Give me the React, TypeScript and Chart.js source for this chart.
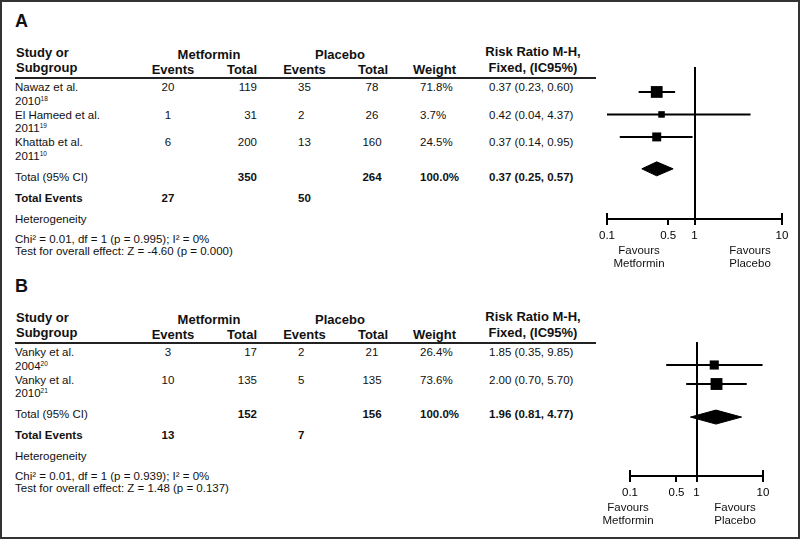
import React, { useEffect, useRef } from "react";
import { Chart, registerables } from "chart.js";

Chart.register(...registerables);

const FONT = 'Arial, "Liberation Sans", Helvetica, sans-serif';
Chart.defaults.font.family = FONT;

// ---------- Panel A data ----------
const studiesA = ["Nawaz et al.", "El Hameed et al.", "Khattab et al."];
const yearsA = ["2010", "2011", "2011"];
const refsA = ["18", "19", "10"];
const metEventsA = [20, 1, 6];
const metTotalA = [119, 31, 200];
const plcEventsA = [35, 2, 13];
const plcTotalA = [78, 26, 160];
const weightA = [71.8, 3.7, 24.5];
const rrA = [0.37, 0.42, 0.37];
const loA = [0.23, 0.04, 0.14];
const hiA = [0.6, 4.37, 0.95];
const pooledA = [0.37, 0.25, 0.57];
const hetA = "Chi\u00B2 = 0.01, df = 1 (p = 0.995); I\u00B2 = 0%";
const effectA = "Test for overall effect: Z = -4.60 (p = 0.000)";

// ---------- Panel B data ----------
const studiesB = ["Vanky et al.", "Vanky et al."];
const yearsB = ["2004", "2010"];
const refsB = ["20", "21"];
const metEventsB = [3, 10];
const metTotalB = [17, 135];
const plcEventsB = [2, 5];
const plcTotalB = [21, 135];
const weightB = [26.4, 73.6];
const rrB = [1.85, 2.0];
const loB = [0.35, 0.7];
const hiB = [9.85, 5.7];
const pooledB = [1.96, 0.81, 4.77];
const hetB = "Chi\u00B2 = 0.01, df = 1 (p = 0.939); I\u00B2 = 0%";
const effectB = "Test for overall effect: Z = 1.48 (p = 0.137)";

const xTicks = [0.1, 0.5, 1, 10];
const nullValue = 1;

const fmt2 = (v: number) => v.toFixed(2);
const sum = (a: number[]) => a.reduce((s, v) => s + v, 0);

type Align = "left" | "center" | "right";
function T(props: { x: number; y: number; children: any; align?: Align; size?: number; bold?: boolean }) {
  const { x, y, children, align = "left", size = 11.5, bold = false } = props;
  const tx = align === "left" ? "0" : align === "center" ? "-50%" : "-100%";
  return (
    <div
      style={{
        position: "absolute",
        left: x,
        top: y,
        transform: `translate(${tx}, -50%)`,
        fontFamily: FONT,
        fontSize: size,
        fontWeight: bold ? 700 : 400,
        lineHeight: 1,
        whiteSpace: "nowrap",
        color: "#111",
      }}
    >
      {children}
    </div>
  );
}

type PanelData = {
  letter: string;
  studies: string[];
  years: string[];
  refs: string[];
  metEvents: number[];
  metTotal: number[];
  plcEvents: number[];
  plcTotal: number[];
  weight: number[];
  rr: number[];
  lo: number[];
  hi: number[];
  pooled: number[];
  het: string;
  effect: string;
};

type PlotLayout = {
  left: number;
  top: number;
  width: number;
  height: number;
  pad: { left: number; right: number; top: number; bottom: number };
  axisH: number;
  yMin: number;
  yMax: number;
  totalGap: number;
  favY: number;
  favLeftX: number;
  favRightX: number;
};

const COL = {
  study: 15,
  metEv: 168,
  metTot: 257,
  plcEv: 298,
  plcTot: 372,
  weight: 420,
  rr: 489,
};

function Table({ d, off }: { d: PanelData; off: number }) {
  const rowY0 = off + 88;
  const step = 27.5;
  const totalY = rowY0 + (d.studies.length - 1) * step + 34.5;
  const els: any[] = [];
  els.push(<T key="letter" x={15} y={off + 21} size={18} bold>{d.letter}</T>);
  const H = 13;
  els.push(<T key="h1" x={16} y={off + 51.5} size={H} bold>Study or</T>);
  els.push(<T key="h2" x={16} y={off + 66.5} size={H} bold>Subgroup</T>);
  els.push(<T key="h3" x={209} y={off + 54} size={H} bold align="center">Metformin</T>);
  els.push(<T key="h4" x={340} y={off + 54} size={H} bold align="center">Placebo</T>);
  els.push(<T key="h5" x={173} y={off + 69} size={H} bold align="center">Events</T>);
  els.push(<T key="h6" x={257} y={off + 69} size={H} bold align="right">Total</T>);
  els.push(<T key="h7" x={304.5} y={off + 69} size={H} bold align="center">Events</T>);
  els.push(<T key="h8" x={388} y={off + 69} size={H} bold align="right">Total</T>);
  els.push(<T key="h9" x={434.5} y={off + 69} size={H} bold align="center">Weight</T>);
  els.push(<T key="h10" x={533} y={off + 50.5} size={H} bold align="center">Risk Ratio M-H,</T>);
  els.push(<T key="h11" x={533} y={off + 66.5} size={H} bold align="center">Fixed, (IC95%)</T>);
  els.push(
    <div key="rule" style={{ position: "absolute", left: 15, top: off + 77, width: 581, height: 2, background: "#222" }} />
  );
  d.studies.forEach((s, i) => {
    const y = rowY0 + i * step;
    els.push(<T key={"s" + i} x={COL.study} y={y}>{s}</T>);
    els.push(
      <T key={"yr" + i} x={COL.study} y={y + 13.5}>
        {d.years[i]}
        <span style={{ fontSize: 6.5, position: "relative", top: -4 }}>{d.refs[i]}</span>
      </T>
    );
    els.push(<T key={"me" + i} x={COL.metEv} y={y} align="center">{d.metEvents[i]}</T>);
    els.push(<T key={"mt" + i} x={COL.metTot} y={y} align="right">{d.metTotal[i]}</T>);
    els.push(<T key={"pe" + i} x={COL.plcEv} y={y}>{d.plcEvents[i]}</T>);
    els.push(<T key={"pt" + i} x={COL.plcTot} y={y} align="center">{d.plcTotal[i]}</T>);
    els.push(<T key={"w" + i} x={COL.weight} y={y}>{d.weight[i].toFixed(1) + "%"}</T>);
    els.push(
      <T key={"r" + i} x={COL.rr} y={y}>
        {`${fmt2(d.rr[i])} (${fmt2(d.lo[i])}, ${fmt2(d.hi[i])})`}
      </T>
    );
  });
  els.push(<T key="tci" x={COL.study} y={totalY}>Total (95% CI)</T>);
  els.push(<T key="tmt" x={COL.metTot} y={totalY} align="right" bold>{sum(d.metTotal)}</T>);
  els.push(<T key="tpt" x={COL.plcTot} y={totalY} align="center" bold>{sum(d.plcTotal)}</T>);
  els.push(<T key="tw" x={COL.weight} y={totalY} bold>{sum(d.weight).toFixed(1) + "%"}</T>);
  els.push(
    <T key="trr" x={COL.rr} y={totalY} bold>
      {`${fmt2(d.pooled[0])} (${fmt2(d.pooled[1])}, ${fmt2(d.pooled[2])})`}
    </T>
  );
  els.push(<T key="te" x={COL.study} y={totalY + 21} bold>Total Events</T>);
  els.push(<T key="tme" x={COL.metEv} y={totalY + 21} align="center" bold>{sum(d.metEvents)}</T>);
  els.push(<T key="tpe" x={COL.plcEv} y={totalY + 21} bold>{sum(d.plcEvents)}</T>);
  els.push(<T key="het" x={COL.study} y={totalY + 42}>Heterogeneity</T>);
  els.push(<T key="chi" x={COL.study} y={totalY + 62}>{d.het}</T>);
  els.push(<T key="eff" x={COL.study} y={totalY + 74}>{d.effect}</T>);
  return <>{els}</>;
}

const refLinePlugin = {
  id: "refLine",
  beforeDatasetsDraw(chart: any) {
    const { ctx, chartArea } = chart;
    const x = Math.round(chart.scales.x.getPixelForValue(nullValue));
    ctx.save();
    ctx.strokeStyle = "#000";
    ctx.lineWidth = 2;
    ctx.beginPath();
    ctx.moveTo(x, chartArea.top);
    ctx.lineTo(x, chartArea.bottom);
    ctx.stroke();
    ctx.restore();
  },
};

const capPlugin = {
  id: "axisCaps",
  afterDraw(chart: any) {
    const { ctx } = chart;
    const xs = chart.scales.x;
    const y = xs.top;
    ctx.save();
    ctx.strokeStyle = "#000";
    ctx.lineWidth = 2;
    [xTicks[0], xTicks[xTicks.length - 1]].forEach((v) => {
      const px = Math.round(xs.getPixelForValue(v));
      ctx.beginPath();
      ctx.moveTo(px, y - 6);
      ctx.lineTo(px, y);
      ctx.stroke();
    });
    ctx.restore();
  },
};

const boxSide = (w: number) => 5 + 8 * Math.sqrt(w / 100);
const diamondHalfPx = 7;

function Forest({ d, L }: { d: PanelData; L: PlotLayout }) {
  const ref = useRef<HTMLCanvasElement>(null);
  useEffect(() => {
    const canvas = ref.current!;
    const areaH = L.height - L.pad.top - L.pad.bottom - L.axisH;
    const pxPerRow = areaH / (L.yMax - L.yMin);
    const h = diamondHalfPx / pxPerRow;
    const t = d.studies.length - 1 + L.totalGap;
    const datasets: any[] = [];
    datasets.push({
      data: d.rr.map((v, i) => ({ x: v, y: i })),
      pointStyle: "rect",
      pointRadius: (c: any) => boxSide(d.weight[c.dataIndex]) / Math.SQRT2,
      backgroundColor: "#000",
      borderColor: "#000",
      borderWidth: 0,
      order: 0,
    });
    d.rr.forEach((_, i) => {
      datasets.push({
        data: [
          { x: d.lo[i], y: i },
          { x: d.hi[i], y: i },
        ],
        showLine: true,
        borderColor: "#000",
        borderWidth: 2,
        pointRadius: 0,
        order: 2,
      });
    });
    const [pr, pl, ph] = d.pooled;
    datasets.push({
      data: [
        { x: pl, y: t },
        { x: pr, y: t - h },
        { x: ph, y: t },
        { x: pr, y: t + h },
        { x: pl, y: t },
      ],
      showLine: true,
      fill: "shape",
      backgroundColor: "#000",
      borderColor: "#000",
      borderWidth: 1,
      pointRadius: 0,
      order: 1,
    });
    const chart = new Chart(canvas, {
      type: "scatter",
      data: { datasets },
      options: {
        animation: false,
        responsive: false,
        devicePixelRatio: 1,
        events: [],
        layout: { padding: L.pad },
        plugins: { legend: { display: false }, tooltip: { enabled: false } },
        scales: {
          x: {
            type: "logarithmic",
            min: xTicks[0],
            max: xTicks[xTicks.length - 1],
            afterBuildTicks: (s: any) => {
              s.ticks = xTicks.map((v) => ({ value: v }));
            },
            afterFit: (s: any) => {
              s.height = L.axisH;
            },
            ticks: {
              autoSkip: false,
              maxRotation: 0,
              color: "#000",
              font: { size: 11.5, family: FONT },
              padding: 4,
              callback: (v: any) => String(v),
            },
            grid: { drawOnChartArea: false, drawTicks: true, tickLength: 6, color: "#000", lineWidth: 2 },
            border: { display: true, color: "#000", width: 2 },
          },
          y: { type: "linear", display: false, reverse: true, min: L.yMin, max: L.yMax },
        },
      } as any,
      plugins: [refLinePlugin, capPlugin],
    });
    return () => chart.destroy();
  }, []);
  return (
    <>
      <canvas
        ref={ref}
        width={L.width}
        height={L.height}
        style={{ position: "absolute", left: L.left, top: L.top, width: L.width, height: L.height }}
      />
      <T x={L.favLeftX} y={L.favY} align="center">Favours</T>
      <T x={L.favLeftX} y={L.favY + 13} align="center">Metformin</T>
      <T x={L.favRightX} y={L.favY} align="center">Favours</T>
      <T x={L.favRightX} y={L.favY + 13} align="center">Placebo</T>
    </>
  );
}

const panelA: PanelData = {
  letter: "A",
  studies: studiesA,
  years: yearsA,
  refs: refsA,
  metEvents: metEventsA,
  metTotal: metTotalA,
  plcEvents: plcEventsA,
  plcTotal: plcTotalA,
  weight: weightA,
  rr: rrA,
  lo: loA,
  hi: hiA,
  pooled: pooledA,
  het: hetA,
  effect: effectA,
};

const panelB: PanelData = {
  letter: "B",
  studies: studiesB,
  years: yearsB,
  refs: refsB,
  metEvents: metEventsB,
  metTotal: metTotalB,
  plcEvents: plcEventsB,
  plcTotal: plcTotalB,
  weight: weightB,
  rr: rrB,
  lo: loB,
  hi: hiB,
  pooled: pooledB,
  het: hetB,
  effect: effectB,
};

const layoutA: PlotLayout = {
  left: 560,
  top: 55,
  width: 240,
  height: 200,
  pad: { left: 47, right: 18, top: 12, bottom: 6 },
  axisH: 30,
  yMin: -1.11,
  yMax: 5.65,
  totalGap: 1.42,
  favY: 250.5,
  favLeftX: 639,
  favRightX: 750,
};

const layoutB: PlotLayout = {
  left: 580,
  top: 330,
  width: 220,
  height: 180,
  pad: { left: 50, right: 37, top: 12, bottom: 4 },
  axisH: 30,
  yMin: -1.21,
  yMax: 5.84,
  totalGap: 1.74,
  favY: 508,
  favLeftX: 628,
  favRightX: 735,
};

export default function App() {
  return (
    <div
      style={{
        position: "absolute",
        left: 0,
        top: 0,
        width: 800,
        height: 539,
        boxSizing: "border-box",
        border: "2px solid #333",
        background: "#fff",
        overflow: "hidden",
      }}
    >
      <div style={{ position: "absolute", left: -2, top: -2, width: 800, height: 539 }}>
        <Table d={panelA} off={0} />
        <Table d={panelB} off={265} />
        <Forest d={panelA} L={layoutA} />
        <Forest d={panelB} L={layoutB} />
      </div>
    </div>
  );
}
